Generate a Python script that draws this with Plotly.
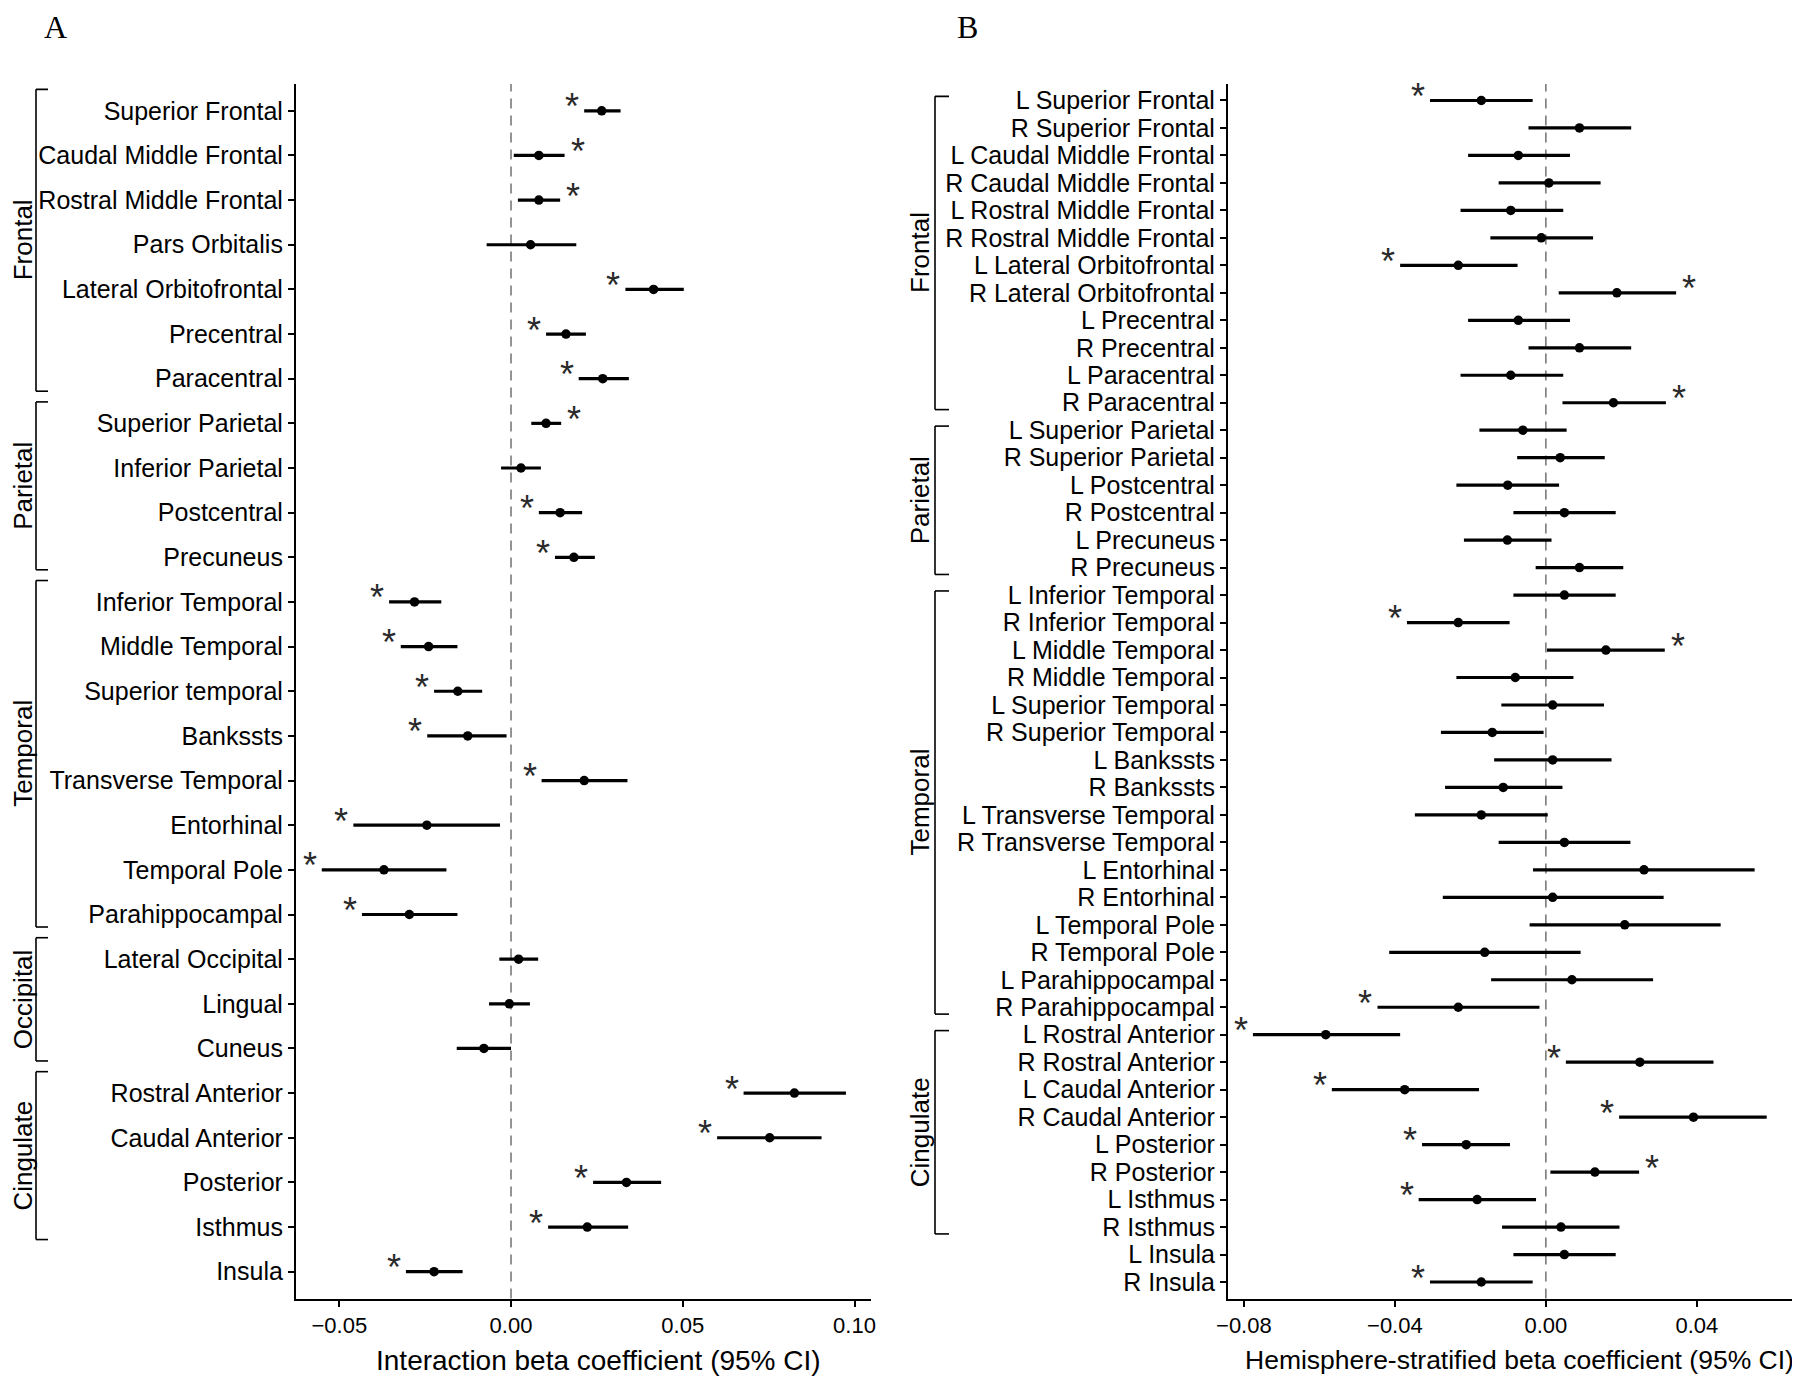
import plotly.graph_objects as go

# ---------------- Panel A data ----------------
regions_a = ["Superior Frontal", "Caudal Middle Frontal", "Rostral Middle Frontal", "Pars Orbitalis",
             "Lateral Orbitofrontal", "Precentral", "Paracentral", "Superior Parietal", "Inferior Parietal",
             "Postcentral", "Precuneus", "Inferior Temporal", "Middle Temporal", "Superior temporal",
             "Bankssts", "Transverse Temporal", "Entorhinal", "Temporal Pole", "Parahippocampal",
             "Lateral Occipital", "Lingual", "Cuneus", "Rostral Anterior", "Caudal Anterior",
             "Posterior", "Isthmus", "Insula"]
beta_a = [0.0264, 0.0081, 0.0081, 0.0057, 0.0415, 0.0160, 0.0267, 0.0102, 0.0029, 0.0143, 0.0183,
          -0.0281, -0.0240, -0.0155, -0.0126, 0.0213, -0.0245, -0.0370, -0.0296,
          0.0022, -0.0005, -0.0079, 0.0825, 0.0753, 0.0336, 0.0222, -0.0224]
lo_a = [0.0213, 0.0008, 0.0020, -0.0071, 0.0333, 0.0102, 0.0197, 0.0059, -0.0029, 0.0081, 0.0128,
        -0.0355, -0.0321, -0.0224, -0.0244, 0.0089, -0.0459, -0.0551, -0.0434,
        -0.0034, -0.0064, -0.0158, 0.0677, 0.0600, 0.0239, 0.0108, -0.0306]
hi_a = [0.0319, 0.0156, 0.0143, 0.0190, 0.0503, 0.0218, 0.0343, 0.0146, 0.0087, 0.0207, 0.0244,
        -0.0203, -0.0156, -0.0084, -0.0013, 0.0339, -0.0032, -0.0188, -0.0156,
        0.0079, 0.0055, 0.0000, 0.0975, 0.0904, 0.0437, 0.0341, -0.0141]
star_a = ["left", "right", "right", "", "left", "left", "left", "right", "", "left", "left",
          "left", "left", "left", "left", "left", "left", "left", "left",
          "", "", "", "left", "left", "left", "left", "left"]
group_names_a = ["Frontal", "Parietal", "Temporal", "Occipital", "Cingulate"]
group_first_a = ["Superior Frontal", "Superior Parietal", "Inferior Temporal", "Lateral Occipital", "Rostral Anterior"]
group_last_a = ["Paracentral", "Precuneus", "Parahippocampal", "Cuneus", "Isthmus"]
xticks_a = [-0.05, 0.0, 0.05, 0.10]
xtitle_a = "Interaction beta coefficient (95% CI)"

# ---------------- Panel B data ----------------
regions_b = ["L Superior Frontal", "R Superior Frontal", "L Caudal Middle Frontal", "R Caudal Middle Frontal",
             "L Rostral Middle Frontal", "R Rostral Middle Frontal", "L Lateral Orbitofrontal",
             "R Lateral Orbitofrontal", "L Precentral", "R Precentral", "L Paracentral", "R Paracentral",
             "L Superior Parietal", "R Superior Parietal", "L Postcentral", "R Postcentral",
             "L Precuneus", "R Precuneus", "L Inferior Temporal", "R Inferior Temporal",
             "L Middle Temporal", "R Middle Temporal", "L Superior Temporal", "R Superior Temporal",
             "L Bankssts", "R Bankssts", "L Transverse Temporal", "R Transverse Temporal",
             "L Entorhinal", "R Entorhinal", "L Temporal Pole", "R Temporal Pole",
             "L Parahippocampal", "R Parahippocampal", "L Rostral Anterior", "R Rostral Anterior",
             "L Caudal Anterior", "R Caudal Anterior", "L Posterior", "R Posterior",
             "L Isthmus", "R Isthmus", "L Insula", "R Insula"]
beta_b = [-0.0171, 0.0089, -0.0073, 0.0008, -0.0093, -0.0012, -0.0232, 0.0188, -0.0073, 0.0089,
          -0.0093, 0.0179, -0.0061, 0.0038, -0.0101, 0.0049, -0.0102, 0.0089, 0.0049, -0.0232,
          0.0159, -0.0081, 0.0018, -0.0142, 0.0018, -0.0113, -0.0171, 0.0049, 0.0260, 0.0018,
          0.0209, -0.0162, 0.0069, -0.0232, -0.0583, 0.0249, -0.0374, 0.0391, -0.0211, 0.0130,
          -0.0182, 0.0040, 0.0049, -0.0171]
lo_b = [-0.0307, -0.0046, -0.0206, -0.0125, -0.0226, -0.0147, -0.0386, 0.0034, -0.0206, -0.0046,
        -0.0226, 0.0044, -0.0176, -0.0076, -0.0237, -0.0086, -0.0217, -0.0027, -0.0086, -0.0368,
        0.0003, -0.0237, -0.0118, -0.0278, -0.0137, -0.0267, -0.0347, -0.0125, -0.0034, -0.0273,
        -0.0043, -0.0415, -0.0145, -0.0446, -0.0776, 0.0053, -0.0567, 0.0194, -0.0328, 0.0012,
        -0.0337, -0.0116, -0.0086, -0.0307]
hi_b = [-0.0035, 0.0226, 0.0064, 0.0145, 0.0046, 0.0125, -0.0075, 0.0345, 0.0064, 0.0226,
        0.0046, 0.0318, 0.0055, 0.0156, 0.0035, 0.0185, 0.0015, 0.0205, 0.0185, -0.0096,
        0.0315, 0.0073, 0.0154, -0.0006, 0.0174, 0.0044, 0.0005, 0.0224, 0.0553, 0.0312,
        0.0463, 0.0092, 0.0284, -0.0017, -0.0386, 0.0444, -0.0177, 0.0585, -0.0095, 0.0247,
        -0.0026, 0.0195, 0.0185, -0.0035]
star_b = ["left", "", "", "", "", "", "left", "right", "", "", "", "right",
          "", "", "", "", "", "",
          "", "left", "right", "", "", "", "", "", "", "", "", "", "", "", "", "left",
          "left", "left", "left", "left", "left", "right", "left", "",
          "", "left"]
group_names_b = ["Frontal", "Parietal", "Temporal", "Cingulate"]
group_first_b = ["L Superior Frontal", "L Superior Parietal", "L Inferior Temporal", "L Rostral Anterior"]
group_last_b = ["R Paracentral", "R Precuneus", "R Parahippocampal", "R Isthmus"]
xticks_b = [-0.08, -0.04, 0.0, 0.04]
xtitle_b = "Hemisphere-stratified beta coefficient (95% CI)"

# ---------------- Styling ----------------
# The page body has an 8px default margin; the figure is sized to fill the rest of the window.
OFF = 8
W, H = 1800 - OFF, 1380 - OFF


def px(x):  # page x (px) -> paper fraction
    return (x - OFF) / W


def py(y):  # page y (px, from top) -> paper fraction
    return 1 - (y - OFF) / H


FONT = "Liberation Sans, Arial, Helvetica, sans-serif"
TICK_FS = 25
GROUP_FS = 26
STAR_FS = 36

fig = go.Figure()


def add_panel(regions, beta, lo, hi, stars, xa, ya):
    fig.add_trace(go.Scatter(
        x=beta, y=regions, mode="markers", xaxis=xa, yaxis=ya,
        marker=dict(color="black", size=9.5),
        error_x=dict(type="data", symmetric=False,
                     array=[h - b for h, b in zip(hi, beta)],
                     arrayminus=[b - l for b, l in zip(beta, lo)],
                     color="black", thickness=3.2, width=0),
        showlegend=False, hoverinfo="skip"))
    for r, l, h, s in zip(regions, lo, hi, stars):
        if not s:
            continue
        left = s == "left"
        fig.add_annotation(x=l if left else h, y=r, xref=xa, yref=ya, text="*", showarrow=False,
                           xanchor="right" if left else "left", yanchor="middle",
                           xshift=-3 if left else 4, yshift=4,
                           font=dict(size=STAR_FS, color="#2a2a2a", family=FONT))


add_panel(regions_a, beta_a, lo_a, hi_a, star_a, "x", "y")
add_panel(regions_b, beta_b, lo_b, hi_b, star_b, "x2", "y2")

ydom = [py(1298.5), py(84)]
common_x = dict(showline=True, linecolor="black", linewidth=2.2, ticks="outside", ticklen=6,
                tickwidth=2, tickcolor="black", showgrid=False, zeroline=False, automargin=False,
                tickfont=dict(size=22, color="black", family=FONT), tickformat=".2f")
common_y = dict(showline=True, linecolor="black", linewidth=2.2, ticks="outside", ticklen=6,
                tickwidth=2, tickcolor="black", showgrid=False, zeroline=False, type="category",
                automargin=False, tickfont=dict(size=TICK_FS, color="black", family=FONT), domain=ydom)

fig.update_layout(
    width=W, height=H, margin=dict(l=0, r=0, t=0, b=0, autoexpand=False),
    paper_bgcolor="white", plot_bgcolor="white",
    font=dict(family=FONT, color="black"),
    xaxis=dict(domain=[px(296), px(871)], range=[-0.0626, 0.1048], tickvals=xticks_a, anchor="y", **common_x),
    yaxis=dict(range=[len(regions_a) - 0.4, -0.6], categoryorder="array", categoryarray=regions_a,
               tickmode="array", tickvals=regions_a, anchor="x", **common_y),
    xaxis2=dict(domain=[px(1228), px(1792)], range=[-0.0842, 0.0652], tickvals=xticks_b, anchor="y2", **common_x),
    yaxis2=dict(range=[len(regions_b) - 0.4, -0.6], categoryorder="array", categoryarray=regions_b,
                tickmode="array", tickvals=regions_b, anchor="x2", **common_y),
)

# x-axis titles
for txt, xc, fs in [(xtitle_a, 598, 28), (xtitle_b, 1519, 26.5)]:
    fig.add_annotation(text=txt, xref="paper", yref="paper", x=px(xc), y=py(1360), showarrow=False,
                       xanchor="center", yanchor="middle",
                       font=dict(size=fs, color="black", family=FONT))

# zero reference lines
for xr, yr in [("x", "y domain"), ("x2", "y2 domain")]:
    fig.add_shape(type="line", xref=xr, yref=yr, x0=0, x1=0, y0=0, y1=1, layer="below",
                  line=dict(color="#7a7a7a", width=1.6, dash="10px,7px"))


def add_brackets(names, firsts, lasts, regions, yref, xv, xt, xlab, top_off, bot_off):
    for name, f, l in zip(names, firsts, lasts):
        y0 = regions.index(f) - top_off
        y1 = regions.index(l) + bot_off
        ln = dict(color="black", width=1.6)
        fig.add_shape(type="line", xref="paper", yref=yref, x0=px(xv), x1=px(xv), y0=y0, y1=y1, line=ln)
        fig.add_shape(type="line", xref="paper", yref=yref, x0=px(xv), x1=px(xt), y0=y0, y1=y0, line=ln)
        fig.add_shape(type="line", xref="paper", yref=yref, x0=px(xv), x1=px(xt), y0=y1, y1=y1, line=ln)
        fig.add_annotation(text=name, xref="paper", yref=yref, x=px(xlab), y=(y0 + y1) / 2,
                           textangle=-90, showarrow=False, xanchor="center", yanchor="middle",
                           font=dict(size=GROUP_FS, color="black", family=FONT))


add_brackets(group_names_a, group_first_a, group_last_a, regions_a, "y", 36, 48, 23, 0.48, 0.28)
add_brackets(group_names_b, group_first_b, group_last_b, regions_b, "y2", 935, 949, 920, 0.15, 0.25)

# panel letters
serif = dict(size=32, color="black", family="Liberation Serif, Times New Roman, serif")
fig.add_annotation(text="A", xref="paper", yref="paper", x=px(55), y=py(26.5), showarrow=False,
                   xanchor="center", yanchor="middle", font=serif)
fig.add_annotation(text="B", xref="paper", yref="paper", x=px(967), y=py(26.5), showarrow=False,
                   xanchor="center", yanchor="middle", font=serif)

fig.write_html("out.html")
